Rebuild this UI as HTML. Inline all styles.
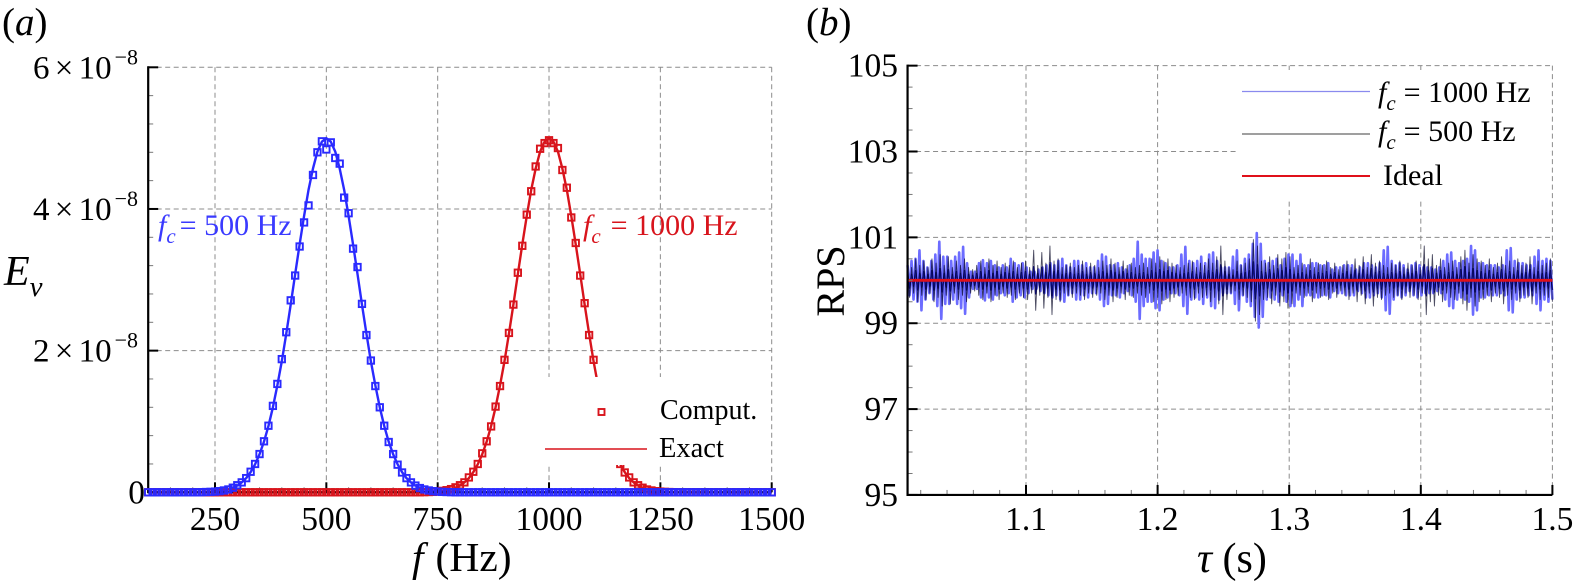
<!DOCTYPE html>
<html lang="en">
<head>
<meta charset="utf-8">
<title>Energy spectra and RPS time series</title>
<style>
html,body{margin:0;padding:0;background:#fff;}
svg{display:block;font-family:"Liberation Serif",serif;}
</style>
</head>
<body>
<svg id="fig" xmlns="http://www.w3.org/2000/svg" width="1573" height="584" viewBox="0 0 1573 584">
  <g id="layerA"></g>
  <g id="layerB"></g>

  <text x="2" y="35" font-size="39">(<tspan font-style="italic">a</tspan>)</text>
  <text x="806" y="35" font-size="39">(<tspan font-style="italic">b</tspan>)</text>

  <text x="4" y="285" font-size="42" font-style="italic">E<tspan dy="11" font-size="29">v</tspan></text>
  <text x="412" y="571" font-size="41.5"><tspan font-style="italic">f</tspan><tspan dx="12">(Hz)</tspan></text>
  <text transform="translate(844,281) rotate(-90)" text-anchor="middle" font-size="40">RPS</text>
  <text x="1197" y="572" font-size="42"><tspan font-style="italic">τ</tspan> (s)</text>

  <text x="158" y="235" font-size="30" fill="#3a3aff"><tspan font-style="italic">f</tspan><tspan dy="8" font-size="21" font-style="italic">c</tspan><tspan dy="-8" dx="4">= 500 Hz</tspan></text>
  <text x="583" y="235" font-size="30" fill="#d8141c"><tspan font-style="italic">f</tspan><tspan dy="8" font-size="21" font-style="italic">c</tspan><tspan dy="-8" dx="10">= 1000 Hz</tspan></text>

  <g>
    <rect x="598.5" y="409" width="6" height="6" fill="none" stroke="#d8141c" stroke-width="1.9"/>
    <text x="660" y="419" font-size="28">Comput.</text>
    <line x1="545" y1="449" x2="647" y2="449" stroke="#d8141c" stroke-width="1.6"/>
    <text x="659" y="457" font-size="28.5">Exact</text>
  </g>

  <g>
    <line x1="1242" y1="91.5" x2="1370" y2="91.5" stroke="#8a8aee" stroke-width="1.2"/>
    <text x="1378" y="102" font-size="30"><tspan font-style="italic">f</tspan><tspan dy="8" font-size="21" font-style="italic">c</tspan><tspan dy="-8" dx="8">= 1000 Hz</tspan></text>
    <line x1="1242" y1="134" x2="1370" y2="134" stroke="#666" stroke-width="1.2"/>
    <text x="1378" y="141" font-size="30"><tspan font-style="italic">f</tspan><tspan dy="8" font-size="21" font-style="italic">c</tspan><tspan dy="-8" dx="8">= 500 Hz</tspan></text>
    <line x1="1242" y1="176" x2="1370" y2="176" stroke="#e0101a" stroke-width="2"/>
    <text x="1383" y="185" font-size="30">Ideal</text>
  </g>
</svg>

<script>
// ---------- Panel (a) data: energy, units of 1e-8 ----------
const specFreq = [100,110,120,130,140,150,160,170,180,190,200,210,220,230,240,250,260,270,280,290,300,310,320,330,340,350,360,370,380,390,400,410,420,430,440,450,460,470,480,490,500,510,520,530,540,550,560,570,580,590,600,610,620,630,640,650,660,670,680,690,700,710,720,730,740,750,760,770,780,790,800,810,820,830,840,850,860,870,880,890,900,910,920,930,940,950,960,970,980,990,1000,1010,1020,1030,1040,1050,1060,1070,1080,1090,1100,1110,1120,1130,1140,1150,1160,1170,1180,1190,1200,1210,1220,1230,1240,1250,1260,1270,1280,1290,1300,1310,1320,1330,1340,1350,1360,1370,1380,1390,1400,1410,1420,1430,1440,1450,1460,1470,1480,1490,1500];
const blueExact = [0,0,0,0,0,0,0,0,0,0,0,0,.002,.004,.006,.01,.016,.026,.041,.063,.095,.139,.2,.285,.395,.537,.715,.935,1.2,1.51,1.85,2.24,2.65,3.08,3.5,3.9,4.27,4.57,4.81,4.95,5,4.95,4.81,4.57,4.27,3.9,3.5,3.08,2.65,2.24,1.85,1.51,1.2,.935,.715,.537,.395,.285,.2,.139,.095,.063,.041,.026,.016,.01,.006,.004,.002,0,0,0,0,0,0,0,0,0,0,0,0,0,0,0,0,0,0,0,0,0,0,0,0,0,0,0,0,0,0,0,0,0,0,0,0,0,0,0,0,0,0,0,0,0,0,0,0,0,0,0,0,0,0,0,0,0,0,0,0,0,0,0,0,0,0,0,0,0,0,0,0,0,0,0,0,0,0];
const blueComput = [0,0,0,0,0,0,0,0,0,0,0,0,.002,.004,.006,.01,.016,.026,.04,.065,.1,.14,.2,.29,.4,.54,.72,.94,1.22,1.53,1.88,2.26,2.71,3.06,3.47,3.81,4.05,4.48,4.8,4.955,4.84,4.94,4.72,4.64,4.16,3.94,3.44,3.18,2.66,2.22,1.86,1.5,1.2,.94,.71,.54,.39,.28,.2,.14,.095,.06,.04,.026,.016,.01,.006,.004,.002,0,0,0,0,0,0,0,0,0,0,0,0,0,0,0,0,0,0,0,0,0,0,0,0,0,0,0,0,0,0,0,0,0,0,0,0,0,0,0,0,0,0,0,0,0,0,0,0,0,0,0,0,0,0,0,0,0,0,0,0,0,0,0,0,0,0,0,0,0,0,0,0,0,0,0,0,0,0];
const redExact = [0,0,0,0,0,0,0,0,0,0,0,0,0,0,0,0,0,0,0,0,0,0,0,0,0,0,0,0,0,0,0,0,0,0,0,0,0,0,0,0,0,0,0,0,0,0,0,0,0,0,0,0,0,0,0,0,0,0,0,0,0,0,.002,.004,.006,.01,.016,.026,.041,.063,.095,.139,.2,.285,.395,.537,.715,.935,1.2,1.51,1.85,2.24,2.65,3.08,3.5,3.9,4.27,4.57,4.81,4.95,5,4.95,4.81,4.57,4.27,3.9,3.5,3.08,2.65,2.24,1.85,1.51,1.2,.935,.715,.537,.395,.285,.2,.139,.095,.063,.041,.026,.016,.01,.006,.004,.002,0,0,0,0,0,0,0,0,0,0,0,0,0,0,0,0,0,0,0,0,0,0,0,0];
const redComput = [0,0,0,0,0,0,0,0,0,0,0,0,0,0,0,0,0,0,0,0,0,0,0,0,0,0,0,0,0,0,0,0,0,0,0,0,0,0,0,0,0,0,0,0,0,0,0,0,0,0,0,0,0,0,0,0,0,0,0,0,0,0,.002,.004,.006,.012,.02,.03,.045,.07,.1,.14,.21,.29,.4,.55,.72,.93,1.21,1.5,1.87,2.25,2.65,3.1,3.48,3.92,4.25,4.6,4.85,4.93,4.97,4.93,4.86,4.55,4.3,3.88,3.52,3.06,2.67,2.22,1.87,1.5,1.2,.94,.72,.53,.4,.28,.21,.14,.1,.065,.04,.026,.016,.01,.006,.004,.002,0,0,0,0,0,0,0,0,0,0,0,0,0,0,0,0,0,0,0,0,0,0,0,0];
const specXTicks = [250,500,750,1000,1250,1500];
const specYTicks = ["0","2","4","6"];

// ---------- Panel (b) data: RPS, peak deviation from the mean ----------
const rpsYTicks = [95,97,99,101,103,105];
const tauTicks = ["1.1","1.2","1.3","1.4","1.5"];
const tauRange = [1.01,1.5];
const idealRps = [100,100];
const blueDeviation = [.35,.45,.5,.7,.45,.3,.45,.6,.9,.55,.55,.45,.55,.65,.78,.4,.2,.2,.4,.47,.4,.45,.35,.3,.35,.3,.5,.4,.35,.4,.3,.2,.2,.25,.3,.35,.4,.35,.45,.5,.35,.3,.45,.45,.35,.4,.3,.3,.45,.6,.55,.35,.35,.4,.3,.25,.35,.5,.9,.6,.5,.5,.65,.7,.45,.4,.3,.3,.35,.6,.78,.45,.4,.45,.55,.4,.6,.65,.45,.3,.3,.3,.55,.7,.35,.5,.6,.85,1.1,.85,.45,.4,.45,.5,.35,.5,.6,.6,.45,.6,.35,.35,.4,.4,.35,.35,.4,.25,.3,.3,.35,.35,.35,.25,.3,.4,.4,.35,.3,.4,.7,.78,.45,.35,.4,.35,.25,.35,.4,.35,.3,.3,.3,.25,.3,.45,.6,.65,.45,.4,.45,.5,.8,.7,.4,.4,.35,.35,.35,.3,.35,.7,.75,.45,.4,.4,.35,.35,.55,.7,.45,.5,.45];
const blackDeviation = [.4,.3,.5,.35,.45,.3,.5,.4,.6,.35,.55,.3,.45,.35,.5,.3,.25,.35,.45,.3,.5,.35,.45,.3,.4,.35,.45,.3,.4,.45,.3,.7,.35,.65,.4,.8,.45,.5,.3,.35,.4,.3,.35,.45,.3,.4,.35,.3,.45,.35,.5,.4,.3,.45,.35,.4,.3,.35,.4,.3,.5,.4,.55,.45,.5,.4,.35,.3,.35,.4,.45,.3,.4,.35,.5,.4,.55,.8,.45,.3,.25,.45,.35,.4,.5,.95,.8,.45,.4,.55,.35,.6,.5,.65,.55,.3,.35,.4,.3,.5,.3,.4,.35,.45,.3,.4,.25,.35,.45,.3,.5,.35,.55,.3,.6,.4,.45,.35,.3,.4,.35,.45,.3,.4,.35,.45,.3,.8,.5,.6,.35,.5,.3,.4,.45,.3,.55,.7,.4,.6,.5,.45,.35,.5,.3,.4,.55,.35,.45,.3,.5,.35,.4,.55,.3,.45,.35,.4,.5];

// ---------- Axis functions ----------
const xF = f => 215 + (f - 250) * (771.7 - 215) / 1250;
const yE = v => 492.3 - v * (492.3 - 67.3) / 6;
const xT = t => 1026 + (t - 1.1) * 1316;
const yR = r => 280.3 + (100 - r) * 42.93;

const NS = 'http://www.w3.org/2000/svg';
const layerA = document.getElementById('layerA');
const layerB = document.getElementById('layerB');
function mk(parent, tag, attrs) {
  const el = document.createElementNS(NS, tag);
  for (const k in attrs) el.setAttribute(k, attrs[k]);
  parent.appendChild(el);
  return el;
}
function gridLine(parent, x1, y1, x2, y2) {
  const el = mk(parent, 'line', {x1, y1, x2, y2, stroke: '#8c8c8c', 'stroke-width': 1, 'stroke-dasharray': '5 3.5'});
  
  
}
function tick(parent, x1, y1, x2, y2, major) {
  const el = mk(parent, 'line', {x1, y1, x2, y2, stroke: major ? '#000' : '#777', 'stroke-width': major ? 2 : 1});
  
  
}
function axisLine(parent, x1, y1, x2, y2) {
  const el = mk(parent, 'line', {x1, y1, x2, y2, stroke: '#000', 'stroke-width': 2.2});
  
  
}
function poly(parent, pts, stroke, width, opacity, name) {
  const el = mk(parent, 'polyline', {points: pts.join(' '), fill: 'none', stroke, 'stroke-width': width, 'stroke-linejoin': 'round', opacity});
  
  
  return el;
}
function label(parent, x, y, txt, anchor, size) {
  const el = mk(parent, 'text', {x, y, 'text-anchor': anchor, 'font-size': size});
  el.textContent = txt;
  
  
  return el;
}

// ---------- Panel (a) ----------
specXTicks.forEach(f => gridLine(layerA, xF(f), yE(6), xF(f), yE(0)));
specYTicks.filter(v => v !== "0").forEach(v => gridLine(layerA, xF(100), yE(+v), xF(1500), yE(+v)));

poly(layerA, specFreq.map((f, i) => xF(f).toFixed(2) + ',' + yE(redExact[i]).toFixed(2)), '#d8141c', 2.4, 1, 'red-exact-line');
poly(layerA, specFreq.map((f, i) => xF(f).toFixed(2) + ',' + yE(blueExact[i]).toFixed(2)), '#2a2aff', 2.4, 1, 'blue-exact-line');

for (let v = 0; v <= 6.001; v += 0.4) {
  const major = Math.abs(v / 2 - Math.round(v / 2)) < 1e-6;
  tick(layerA, xF(100), yE(v), xF(100) + (major ? 10 : 5), yE(v), major);
}
for (let f = 150; f <= 1500; f += 50) {
  const major = specXTicks.includes(f);
  tick(layerA, xF(f), yE(0), xF(f), yE(0) - (major ? 10 : 5), major);
}
axisLine(layerA, xF(100), yE(6) - 1, xF(100), yE(0) + 1);
axisLine(layerA, xF(100), yE(0), xF(1500), yE(0));

function markers(values, color, name) {
  specFreq.forEach((f, i) => {
    const el = mk(layerA, 'rect', {x: (xF(f) - 3.2).toFixed(2), y: (yE(values[i]) - 3.2).toFixed(2), width: 6.4, height: 6.4, fill: 'none', stroke: color, 'stroke-width': 1.9});
    
    
  });
}
markers(redComput, '#d8141c', 'red-comput-marker');
markers(blueComput, '#2a2aff', 'blue-comput-marker');

const legendMaskA = mk(layerA, 'rect', {x: 540, y: 377, width: 195, height: 88, fill: '#fff'});



specXTicks.forEach(f => label(layerA, xF(f), 530, String(f), 'middle', 33.5));
label(layerA, 145, yE(0) + 11, '0', 'end', 33.5);
specYTicks.filter(v => v !== "0").forEach(v => {
  const el = label(layerA, 33, yE(+v) + 11, v + ' × 10', 'start', 33);
  el.setAttribute('word-spacing', '-3');
  const sup = mk(el, 'tspan', {dx: 3, dy: -14, 'font-size': 22});
  sup.textContent = '−8';
  
  
});

// ---------- Panel (b) ----------
tauTicks.forEach(t => gridLine(layerB, xT(+t), yR(105), xT(+t), yR(95)));
rpsYTicks.filter(r => r !== 95).forEach(r => gridLine(layerB, xT(tauRange[0]), yR(r), xT(1.5), yR(r)));

function zigzag(values, scale) {
  const step = (tauRange[1] - tauRange[0]) / (values.length - 0.5);
  const pts = [];
  values.forEach((d, i) => {
    const t = tauRange[0] + i * step;
    pts.push(xT(t).toFixed(2) + ',' + yR(100 + d * scale).toFixed(2));
    pts.push(xT(t + step / 2).toFixed(2) + ',' + yR(100 - d * scale).toFixed(2));
  });
  return pts;
}
poly(layerB, zigzag(blueDeviation, 1), '#6c6cff', 2.6, 1, 'series-fc-1000');
poly(layerB, zigzag(blackDeviation, 0.45), '#10109a', 1.5, 1, 'series-fc-500-core');
poly(layerB, zigzag(blackDeviation, 1), '#000020', 0.9, 0.7, 'series-fc-500');
poly(layerB, tauRange.map((t, i) => xT(t).toFixed(2) + ',' + yR(idealRps[i]).toFixed(2)), '#e0101a', 2.8, 1, 'series-ideal');

for (let r = 95; r <= 105.001; r += 0.5) {
  const major = Math.abs((r - 95) / 2 - Math.round((r - 95) / 2)) < 1e-6;
  tick(layerB, xT(tauRange[0]), yR(r), xT(tauRange[0]) + (major ? 10 : 5), yR(r), major);
}
for (let t = 1.02; t <= 1.5001; t += 0.02) {
  const major = Math.abs(t * 10 - Math.round(t * 10)) < 1e-6;
  tick(layerB, xT(t), yR(95), xT(t), yR(95) - (major ? 10 : 5), major);
}
axisLine(layerB, xT(tauRange[0]), yR(105) - 1, xT(tauRange[0]), yR(95) + 1);
axisLine(layerB, xT(tauRange[0]), yR(95), xT(1.5), yR(95));

const legendMaskB = mk(layerB, 'rect', {x: 1237, y: 70, width: 313, height: 129, fill: '#fff'});



rpsYTicks.forEach(r => label(layerB, 898, yR(r) + 11, String(r), 'end', 33.5));
tauTicks.forEach(t => label(layerB, xT(+t), 530, t, 'middle', 33.5));
</script>
</body>
</html>
